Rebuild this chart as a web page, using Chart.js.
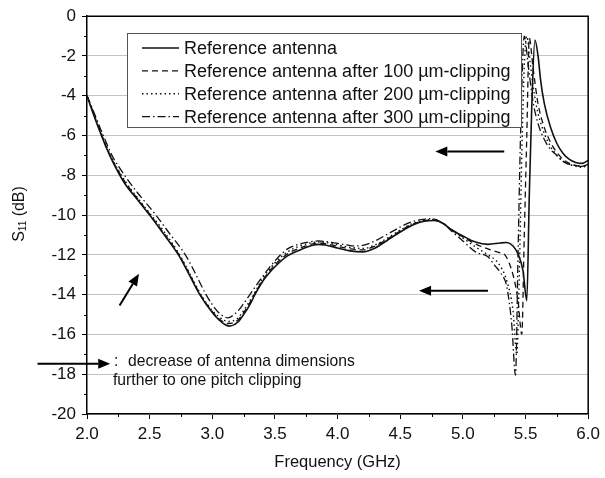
<!DOCTYPE html>
<html>
<head>
<meta charset="utf-8">
<script src="https://cdn.jsdelivr.net/npm/chart.js@4.4.1/dist/chart.umd.min.js"></script>
<style>
  html, body { margin: 0; padding: 0; background: #fff; }
  #wrap { width: 605px; height: 478px; }
</style>
</head>
<body>
<div id="wrap"><canvas id="s11Chart" width="605" height="478"></canvas></div>
<script>
// S11 vs frequency for the reference antenna and three clipped versions.
// Values (GHz, dB).

const SERIES_LABELS = [
    'Reference antenna',
    'Reference antenna after 100 µm-clipping',
    'Reference antenna after 200 µm-clipping',
    'Reference antenna after 300 µm-clipping',
];

const FREQ_REF = [2.0, 2.05, 2.1, 2.15, 2.2, 2.3, 2.4, 2.5, 2.6, 2.73, 2.8, 2.9, 3.0, 3.05, 3.1, 3.134, 3.2, 3.25, 3.3, 3.34, 3.4, 3.5, 3.6, 3.7, 3.8, 3.85, 3.9, 4.0, 4.1, 4.2, 4.3, 4.4, 4.5, 4.6, 4.7, 4.77, 4.85, 4.9, 5.0, 5.1, 5.2, 5.3, 5.35, 5.4, 5.44, 5.48, 5.51, 5.53, 5.55, 5.575, 5.6, 5.62, 5.65, 5.7, 5.75, 5.8, 5.85, 5.9, 5.95, 6.0];
const S11_REF = [-4.0, -4.9, -5.75, -6.55, -7.25, -8.4, -9.2, -10.0, -10.85, -12.0, -12.8, -14.0, -14.9, -15.25, -15.5, -15.58, -15.4, -15.0, -14.5, -14.0, -13.35, -12.6, -12.05, -11.75, -11.52, -11.47, -11.5, -11.65, -11.8, -11.85, -11.65, -11.25, -10.85, -10.5, -10.3, -10.27, -10.45, -10.7, -11.05, -11.35, -11.47, -11.4, -11.38, -11.55, -11.95, -12.8, -14.3, -9.0, -4.5, -1.2, -2.0, -3.2, -4.4, -5.6, -6.4, -6.9, -7.2, -7.35, -7.4, -7.25];

const FREQ_100 = [2.0, 2.05, 2.1, 2.15, 2.2, 2.3, 2.4, 2.5, 2.6, 2.735, 2.8, 2.905, 3.0, 3.05, 3.1, 3.13, 3.2, 3.25, 3.3, 3.335, 3.4, 3.5, 3.6, 3.7, 3.8, 3.85, 3.9, 4.0, 4.1, 4.2, 4.3, 4.4, 4.5, 4.6, 4.7, 4.76, 4.85, 4.9, 5.0, 5.1, 5.2, 5.3, 5.335, 5.4, 5.44, 5.47, 5.49, 5.51, 5.53, 5.56, 5.6, 5.65, 5.7, 5.75, 5.8, 5.85, 5.9, 5.95, 6.0];
const S11_100 = [-4.0, -4.85, -5.7, -6.5, -7.2, -8.3, -9.15, -9.95, -10.8, -12.0, -12.75, -14.0, -14.85, -15.2, -15.4, -15.45, -15.3, -14.9, -14.4, -14.0, -13.3, -12.5, -11.95, -11.65, -11.45, -11.4, -11.43, -11.57, -11.7, -11.75, -11.55, -11.2, -10.8, -10.45, -10.28, -10.25, -10.45, -10.7, -11.1, -11.45, -11.7, -11.9, -12.0, -13.0, -14.3, -16.0, -11.0, -6.0, -1.1, -2.6, -4.4, -5.6, -6.35, -6.85, -7.2, -7.4, -7.5, -7.55, -7.45];

const FREQ_200 = [2.0, 2.05, 2.1, 2.15, 2.2, 2.3, 2.4, 2.5, 2.6, 2.74, 2.8, 2.91, 3.0, 3.05, 3.1, 3.125, 3.2, 3.25, 3.3, 3.33, 3.4, 3.5, 3.6, 3.7, 3.8, 3.85, 3.9, 4.0, 4.1, 4.2, 4.3, 4.4, 4.5, 4.6, 4.7, 4.76, 4.85, 4.9, 5.0, 5.1, 5.2, 5.28, 5.35, 5.4, 5.43, 5.45, 5.47, 5.49, 5.51, 5.54, 5.58, 5.65, 5.7, 5.75, 5.8, 5.85, 5.9, 5.95, 6.0];
const S11_200 = [-4.0, -4.85, -5.65, -6.45, -7.15, -8.25, -9.1, -9.9, -10.7, -12.0, -12.7, -14.0, -14.8, -15.1, -15.3, -15.35, -15.2, -14.8, -14.3, -14.0, -13.2, -12.4, -11.85, -11.55, -11.38, -11.35, -11.37, -11.5, -11.62, -11.68, -11.5, -11.15, -10.75, -10.42, -10.25, -10.22, -10.45, -10.7, -11.15, -11.6, -12.0, -12.4, -13.3, -14.8, -17.0, -13.0, -7.0, -2.5, -1.0, -2.5, -4.3, -5.9, -6.55, -7.0, -7.3, -7.45, -7.55, -7.6, -7.5];

const FREQ_300 = [2.0, 2.05, 2.1, 2.15, 2.2, 2.3, 2.4, 2.55, 2.65, 2.785, 2.85, 2.95, 3.0, 3.05, 3.1, 3.12, 3.2, 3.25, 3.3, 3.4, 3.5, 3.6, 3.7, 3.8, 3.85, 3.9, 4.0, 4.1, 4.15, 4.2, 4.3, 4.4, 4.5, 4.6, 4.7, 4.75, 4.85, 4.9, 5.0, 5.1, 5.2, 5.25, 5.3, 5.35, 5.39, 5.42, 5.44, 5.46, 5.49, 5.52, 5.56, 5.6, 5.65, 5.7, 5.75, 5.8, 5.85, 5.9, 5.95, 6.0];
const S11_300 = [-4.0, -4.75, -5.55, -6.3, -7.0, -8.0, -8.85, -10.0, -10.85, -12.0, -12.75, -14.0, -14.5, -14.9, -15.12, -15.17, -14.85, -14.45, -14.0, -13.1, -12.3, -11.7, -11.45, -11.32, -11.3, -11.33, -11.42, -11.53, -11.55, -11.52, -11.3, -10.95, -10.6, -10.32, -10.2, -10.18, -10.45, -10.75, -11.3, -11.85, -12.1, -12.5, -12.9, -13.6, -15.5, -18.05, -12.0, -6.0, -1.0, -2.4, -4.3, -5.4, -6.2, -6.7, -7.0, -7.3, -7.45, -7.5, -7.55, -7.45];

const X_MINOR = [2.25, 2.75, 3.25, 3.75, 4.25, 4.75, 5.25, 5.75];
const Y_MINOR = [-1, -3, -5, -7, -9, -11, -13, -15, -17, -19];

// Arrow annotations in data units: [fromX, fromY, toX, toY]
const ARROWS = [
    [5.33, -6.8, 4.78, -6.8],
    [5.2, -13.8, 4.65, -13.8],
    [2.26, -14.55, 2.415, -12.95],
    [1.605, -17.47, 2.185, -17.47],
];
const NOTE_LINES = ['decrease of antenna dimensions', 'further to one pitch clipping'];

const FONT = '"Liberation Sans", Arial, sans-serif';
const STYLES = [
    { dash: [], width: 1.6 },
    { dash: [6, 4], width: 1.3 },
    { dash: [1.5, 3], width: 1.4 },
    { dash: [8, 3, 1.5, 3], width: 1.3 },
];

const pts = (xs, ys) => xs.map((x, i) => ({ x, y: ys[i] }));
const SERIES_DATA = [pts(FREQ_REF, S11_REF), pts(FREQ_100, S11_100), pts(FREQ_200, S11_200), pts(FREQ_300, S11_300)];

const datasets = SERIES_LABELS.map((label, i) => ({
    label,
    data: SERIES_DATA[i],
    borderColor: '#111',
    backgroundColor: 'transparent',
    borderWidth: STYLES[i].width,
    borderDash: STYLES[i].dash,
    pointRadius: 0,
    cubicInterpolationMode: 'monotone',
}));

function arrow(ctx, x1, y1, x2, y2) {
    const ang = Math.atan2(y2 - y1, x2 - x1);
    const L = 12, W = 5;
    const bx = x2 - L * Math.cos(ang), by = y2 - L * Math.sin(ang);
    ctx.beginPath();
    ctx.moveTo(x1, y1);
    ctx.lineTo(bx, by);
    ctx.stroke();
    ctx.beginPath();
    ctx.moveTo(x2, y2);
    ctx.lineTo(bx + W * Math.sin(ang), by - W * Math.cos(ang));
    ctx.lineTo(bx - W * Math.sin(ang), by + W * Math.cos(ang));
    ctx.closePath();
    ctx.fill();
}

// Frame, minor ticks, boxed legend, arrows, note text and the S11 axis title.
const decor = {
    id: 'decor',
    afterDraw(chart) {
        const { ctx, chartArea: a, scales: { x, y } } = chart;
        ctx.save();
        ctx.strokeStyle = '#000';
        ctx.fillStyle = '#000';

        ctx.lineWidth = 1.5;
        ctx.beginPath();
        ctx.moveTo(a.left, a.top);
        ctx.lineTo(a.right, a.top);
        ctx.lineTo(a.right, a.bottom);
        ctx.stroke();

        ctx.lineWidth = 1;
        ctx.beginPath();
        X_MINOR.forEach(v => { const p = Math.round(x.getPixelForValue(v)) + 0.5; ctx.moveTo(p, a.bottom); ctx.lineTo(p, a.bottom + 3); });
        Y_MINOR.forEach(v => { const p = Math.round(y.getPixelForValue(v)) + 0.5; ctx.moveTo(a.left, p); ctx.lineTo(a.left - 3, p); });
        ctx.stroke();

        // legend box
        const box = { left: 127, top: 33, right: 521, bottom: 127 };
        ctx.fillStyle = '#fff';
        ctx.fillRect(box.left, box.top, box.right - box.left, box.bottom - box.top);
        ctx.strokeStyle = '#555';
        ctx.lineWidth = 1;
        ctx.strokeRect(box.left + 0.5, box.top + 0.5, box.right - box.left, box.bottom - box.top);
        ctx.font = '18px ' + FONT;
        ctx.textBaseline = 'middle';
        ctx.textAlign = 'left';
        chart.data.datasets.forEach((ds, i) => {
            const ry = 48 + i * 22.9;
            ctx.strokeStyle = '#111';
            ctx.lineWidth = ds.borderWidth;
            ctx.setLineDash(ds.borderDash);
            ctx.beginPath();
            ctx.moveTo(142, ry);
            ctx.lineTo(179, ry);
            ctx.stroke();
            ctx.setLineDash([]);
            ctx.fillStyle = '#111';
            ctx.fillText(ds.label, 184, ry + 1);
        });

        // arrows
        ctx.strokeStyle = '#000';
        ctx.fillStyle = '#000';
        ctx.lineWidth = 2;
        ARROWS.forEach(([fx, fy, tx, ty]) => arrow(ctx,
            x.getPixelForValue(fx), y.getPixelForValue(fy),
            x.getPixelForValue(tx), y.getPixelForValue(ty)));

        // note next to the legend arrow
        ctx.font = '15.7px ' + FONT;
        ctx.textBaseline = 'alphabetic';
        ctx.fillStyle = '#111';
        ctx.fillText(':', 114, 366);
        ctx.fillText(NOTE_LINES[0], 128, 366);
        ctx.fillText(NOTE_LINES[1], 113, 385);

        // y title with subscript: S11 (dB)
        ctx.translate(18, 214);
        ctx.rotate(-Math.PI / 2);
        const big = '16px ' + FONT, small = '10px ' + FONT;
        ctx.font = big; const wS = ctx.measureText('S').width; const wT = ctx.measureText(' (dB)').width;
        ctx.font = small; const w11 = ctx.measureText('11').width;
        let cx = -(wS + w11 + wT) / 2;
        ctx.textBaseline = 'alphabetic';
        ctx.font = big; ctx.fillText('S', cx, 6); cx += wS;
        ctx.font = small; ctx.fillText('11', cx, 8); cx += w11;
        ctx.font = big; ctx.fillText(' (dB)', cx, 6);
        ctx.restore();
    },
};

new Chart(document.getElementById('s11Chart'), {
    type: 'line',
    data: { datasets },
    plugins: [decor],
    options: {
        responsive: false,
        animation: false,
        devicePixelRatio: 1,
        layout: { padding: { top: 14, right: 13, left: 0, bottom: 0 } },
        plugins: { legend: { display: false }, tooltip: { enabled: false } },
        scales: {
            x: {
                type: 'linear',
                min: 2, max: 6,
                afterFit: s => { s.height = 64; },
                grid: { drawOnChartArea: false, tickLength: 5, tickColor: '#000', tickWidth: 1 },
                border: { color: '#000', width: 1.5 },
                ticks: { stepSize: 0.5, padding: 5, color: '#111', font: { family: FONT, size: 17 }, callback: v => v.toFixed(1), maxRotation: 0 },
                title: { display: true, text: 'Frequency (GHz)', color: '#111', font: { family: FONT, size: 16.5 }, padding: { bottom: 6, top: 0 } },
            },
            y: {
                min: -20, max: 0,
                afterFit: s => { s.width = 87; },
                grid: { color: '#c4c4c4', lineWidth: 1, tickLength: 5, tickColor: '#000' },
                border: { color: '#000', width: 1.5 },
                ticks: { stepSize: 2, padding: 6, color: '#111', font: { family: FONT, size: 17 }, callback: v => String(v) },
            },
        },
    },
});
</script>
</body>
</html>
